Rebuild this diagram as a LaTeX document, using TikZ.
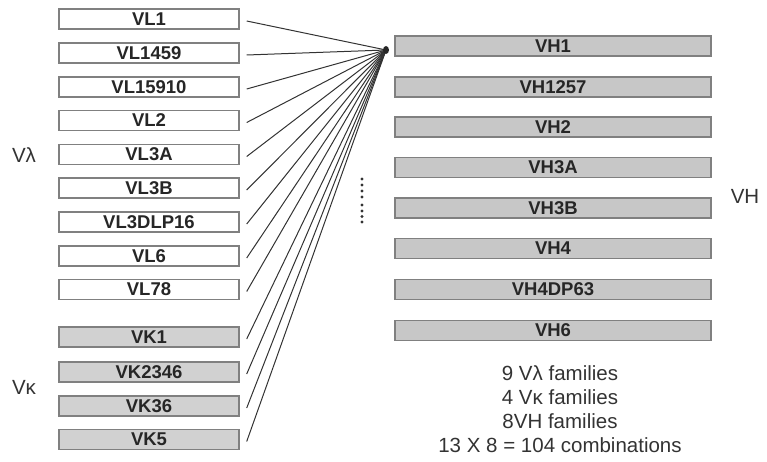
\documentclass[tikz,border=0pt]{standalone}
\usepackage{fontspec}
\setmainfont{Liberation Sans}
\begin{document}
\begin{tikzpicture}[x=1pt,y=-1pt,
  lbox/.style={draw=black!50,line width=1.4pt,minimum width=180pt,minimum height=20pt,inner sep=0pt,font=\fontsize{18.5}{18.5}\selectfont\bfseries,text=black!85},
  wbox/.style={lbox,fill=white},
  kbox/.style={lbox,fill=black!18},
  hbox/.style={lbox,fill=black!22,minimum width=316pt},
  conn/.style={draw=black!80,line width=1pt},
  lab/.style={font=\fontsize{20.5}{24}\selectfont,text=black!80},
  dotmark/.style={fill=black!80}]
\useasboundingbox (0,0) rectangle (767,462);
\coordinate (hub) at (386,50);
% left column
\node[wbox] (vl1) at (149,19) {VL1};
\node[wbox] (vl1459) at (149,53) {VL1459};
\node[wbox] (vl15910) at (149,87) {VL15910};
\node[wbox] (vl2) at (149,120.5) {VL2};
\node[wbox] (vl3a) at (149,154.5) {VL3A};
\node[wbox] (vl3b) at (149,188) {VL3B};
\node[wbox] (vl3dlp16) at (149,222) {VL3DLP16};
\node[wbox] (vl6) at (149,256) {VL6};
\node[wbox] (vl78) at (149,289.5) {VL78};
\node[kbox] (vk1) at (149,337) {VK1};
\node[kbox] (vk2346) at (149,372) {VK2346};
\node[kbox] (vk36) at (149,406) {VK36};
\node[kbox] (vk5) at (149,439.5) {VK5};
% connectors
\foreach \n in {vl1,vl1459,vl15910,vl2,vl3a,vl3b,vl3dlp16,vl6,vl78,vk1,vk2346,vk36,vk5}
  \draw[conn] ([xshift=7pt,yshift=-2pt]\n.east) -- (hub);
\fill[black!85] (hub) ellipse (3pt and 4pt);
% right column
\node[hbox] (vh1) at (553,46) {VH1};
\node[hbox] (vh1257) at (553,87) {VH1257};
\node[hbox] (vh2) at (553,127) {VH2};
\node[hbox] (vh3a) at (553,167.5) {VH3A};
\node[hbox] (vh3b) at (553,208) {VH3B};
\node[hbox] (vh4) at (553,248.5) {VH4};
\node[hbox] (vh4dp63) at (553,289.5) {VH4DP63};
\node[hbox] (vh6) at (553,330.5) {VH6};
% dots
\foreach \y in {179,185,191,197,205,211,216.5,222}
  \fill[dotmark] (362,\y) circle (1.6pt);
% side labels
\node[lab] (vlam) at (24,155) {Vλ};
\node[lab] (vkap) at (24,387) {Vκ};
\node[lab] (vhl) at (745,196) {VH};
% summary
\node[lab,align=center] (summary) at (560,409) {9 Vλ families\\4 Vκ families\\8VH families\\13 X 8 = 104 combinations};
\end{tikzpicture}
\end{document}
